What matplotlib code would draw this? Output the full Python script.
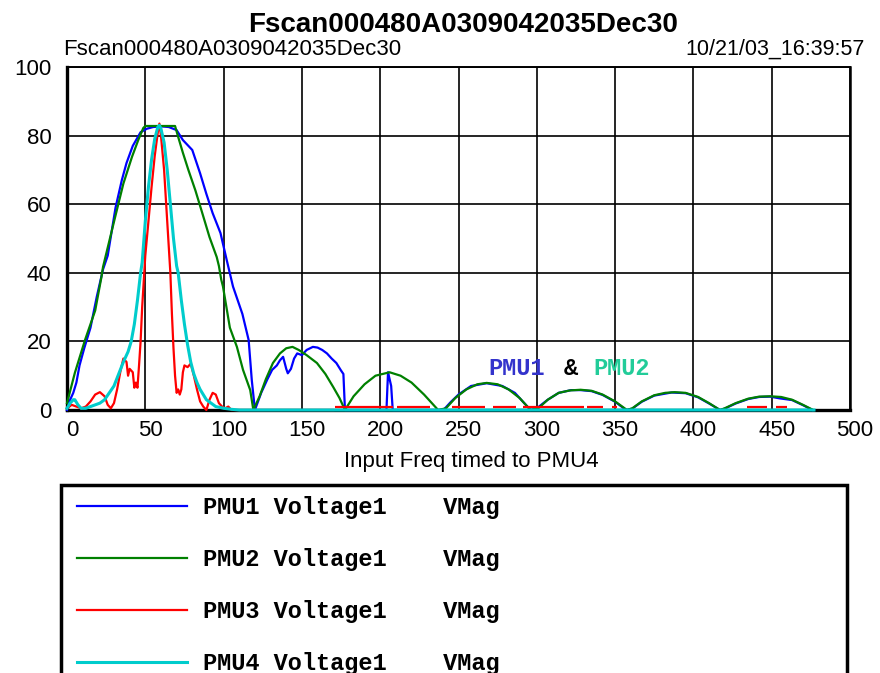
import numpy as np
import matplotlib.pyplot as plt
from matplotlib.patches import Rectangle
from matplotlib.transforms import ScaledTranslation

plt.rcParams['font.family'] = 'Liberation Sans'

# --- PMU1 voltage magnitude vs input frequency ---
pmu1_freq = [0, 2, 4, 6, 8, 11, 15, 19, 23, 26, 31, 35, 38, 42, 47, 51, 55, 60, 65,
             70, 74, 80, 85, 89, 93, 98, 102, 106, 112, 116, 118, 120,
             124, 128, 131, 134, 136, 138, 140, 141, 143, 145, 147, 150, 153, 157,
             160, 163, 166, 169, 172, 175, 176.5, 177.5,
             185, 204, 205, 206, 207, 208, 238,
             241, 245, 250, 258, 268, 278, 286, 293, 296,
             300, 307, 314, 322, 328, 335, 342, 350, 357,
             361, 367, 375, 386, 395, 403, 410, 417,
             420, 427, 435, 442, 449, 455, 463, 470, 476]
pmu1_vmag = [0, 3, 5, 8, 13, 18, 24, 33, 41, 45, 59, 67, 72, 77, 81, 82, 82.5, 82.7, 82.5,
             81.6, 78.7, 75.8, 69, 63, 57.4, 51.6, 43.7, 36, 28, 20.4, 8.7, 0,
             5, 9, 11.7, 13, 14.5, 15.5, 12, 10.7, 12, 15, 16.5, 16, 17.5, 18.4,
             18.2, 17.5, 16.5, 15, 13.7, 11.5, 10.5, 0,
             0, 0, 11, 9, 7, 0, 0,
             0.3, 2.3, 4.5, 7, 7.8, 7, 5, 1.5, 0,
             0.5, 3, 5, 5.8, 5.8, 5.5, 4.4, 2.4, 0,
             0.4, 2.4, 4.2, 5.1, 4.9, 3.7, 1.9, 0,
             0.4, 1.9, 3.2, 3.8, 3.9, 3.4, 2.9, 1.4, 0]

# --- PMU2 voltage magnitude ---
pmu2_freq = [0, 5, 11.5, 18, 22, 23, 30.6, 36, 41.5, 45.5, 48.7, 50, 69, 71, 74, 77.5,
             82, 86, 91, 95.6, 97, 98.5, 99.6, 104, 108.5, 112.4, 117, 119,
             123, 127, 131.5, 136, 140, 144, 148, 153, 159.6, 165, 170, 174, 177.5,
             183, 190, 197, 206, 213, 220, 228, 237,
             242, 248, 255, 262, 268, 275, 282, 289, 296,
             301, 307, 314, 321, 328, 335, 342, 350, 357.6,
             361, 367, 375, 382, 388, 395, 403, 410, 417,
             420, 427, 435, 442, 449, 456, 463, 470, 476.5]
pmu2_vmag = [2, 10.8, 20.4, 29, 38.8, 41.7, 56, 66, 73.8, 78.7, 82.2, 82.8, 82.8, 79.6, 75, 70,
             64, 58, 50.4, 44.6, 42, 38, 36, 24, 18.4, 11.7, 5.8, 0,
             4, 9, 13.7, 16.5, 18, 18.4, 17.5, 16, 13.7, 10.5, 6.7, 3.5, 0,
             4, 7.5, 10, 11, 10, 8, 4.5, 0,
             0.5, 3.5, 6, 7.5, 7.9, 7.5, 6, 3.5, 0,
             0.5, 3, 5, 5.7, 5.9, 5.6, 4.5, 2.5, 0,
             0.5, 2.5, 4.3, 5, 5.2, 5, 3.8, 2, 0,
             0.5, 2, 3.3, 3.9, 4, 3.8, 3, 1.5, 0]

# --- PMU3 voltage magnitude ---
pmu3_freq = [0, 3, 6, 9, 12, 15, 18, 21, 24, 26, 28, 30, 32, 34, 36, 38, 39, 40, 42,
             43, 44, 45, 46, 47, 48, 50, 52, 54, 56, 58, 59, 60, 62, 64, 66, 67, 68,
             69, 70, 71, 72, 73, 74, 75, 77, 79, 81, 83, 85, 87, 89, 91, 93, 95, 97,
             99, 101, 103, 105, 170]
pmu3_vmag = [0.5, 1.5, 1, 0.5, 1, 2.5, 4.5, 5.2, 4, 1.5, 0.5, 2, 6, 11, 15, 14, 10, 12, 11,
             6.5, 8, 6.5, 13, 20, 30, 45, 55, 65, 74, 81, 83.5, 80, 70, 55, 40, 28, 18,
             10, 5, 6, 4.5, 6, 11, 13, 12.5, 13.5, 10, 6, 2.5, 1, 0, 3, 5, 4.5, 2,
             1, 0.5, 1, 0, 0]
# low-level PMU3 readings above 170 Hz (start, end of each run)
pmu3_tail_start = [171, 211, 246, 272, 291, 332, 348, 434, 453]
pmu3_tail_end = [208, 232, 267, 287, 330, 342, 351, 447, 460]
pmu3_tail_level = 0.8

# --- PMU4 voltage magnitude ---
pmu4_freq = [0, 2, 4, 5, 7, 9, 12, 15, 18, 21, 24, 27, 30, 33, 36, 39, 41, 43, 45,
             47, 48, 50, 52, 54, 56, 58, 59, 60, 62, 64, 66, 68, 70, 71, 73, 75, 77,
             79, 81, 83, 85, 87, 89, 92, 95, 100, 105, 110, 477]
pmu4_vmag = [0.5, 2, 3, 3, 1.5, 0.5, 0.5, 1, 1.5, 2, 3, 5, 7, 10.5, 14, 17, 20, 25, 32,
             40, 43, 55, 65, 73, 79, 82.5, 83, 82, 78, 70, 60, 50, 42, 40, 32, 25, 19,
             14, 10.5, 8, 6, 4.5, 3, 2, 1, 0.5, 0.2, 0, 0]

labels = ['PMU1 Voltage1    VMag', 'PMU2 Voltage1    VMag',
          'PMU3 Voltage1    VMag', 'PMU4 Voltage1    VMag']
colors = ['#0000ff', '#008000', '#ff0000', '#00cccc']

title = 'Fscan000480A0309042035Dec30'
stamp = '10/21/03_16:39:57'

fig = plt.figure(figsize=(8.8, 6.73), dpi=100)
ax = fig.add_axes([67 / 880, 263 / 673, 783 / 880, 343 / 673])

lw = 1.6
h1, = ax.plot(pmu1_freq, pmu1_vmag, color=colors[0], lw=lw, zorder=3, clip_on=False)
h2, = ax.plot(pmu2_freq, pmu2_vmag, color=colors[1], lw=lw, zorder=3.1, clip_on=False)
h3, = ax.plot(pmu3_freq, pmu3_vmag, color=colors[2], lw=lw, zorder=3.2, clip_on=False)
ax.hlines([pmu3_tail_level] * len(pmu3_tail_start), pmu3_tail_start, pmu3_tail_end,
          color=colors[2], lw=lw, zorder=3.2)
h4, = ax.plot(pmu4_freq, pmu4_vmag, color=colors[3], lw=2.2, zorder=3.3, clip_on=False)

ax.set_xlim(0, 500)
ax.set_ylim(0, 100)
ax.set_xticks(np.arange(0, 501, 50))
ax.set_yticks(np.arange(0, 101, 20))
ax.grid(True, color='black', lw=1.2)
ax.tick_params(length=0, labelsize=16)
ax.tick_params(axis='y', pad=11)
ax.tick_params(axis='x', pad=7)
shift = ScaledTranslation(5 / 100, 0, fig.dpi_scale_trans)
for lab in ax.get_xticklabels():
    lab.set_transform(lab.get_transform() + shift)

for side, w in [('left', 2.4), ('bottom', 2.4), ('top', 1.4), ('right', 1.8)]:
    ax.spines[side].set_linewidth(w)
    ax.spines[side].set_color('black')

fig.text(471 / 880, 1 - 462 / 673, 'Input Freq timed to PMU4', ha='center', va='center', fontsize=16)

# coloured caption inside the plot
mono = dict(family='Liberation Mono', weight='bold', fontsize=17, va='center')
ax.text(269, 12.2, 'PMU1', color='#3333cc', **mono)
ax.text(317, 12.2, '&', color='black', **mono)
ax.text(336, 12.2, 'PMU2', color='#22cc99', **mono)

fig.text(463 / 880, 1 - 32 / 673, title, ha='center', va='baseline', fontsize=20, weight='bold')
fig.text(63 / 880, 1 - 55 / 673, title, ha='left', va='baseline', fontsize=16)
fig.text(865 / 880, 1 - 55 / 673, stamp, ha='right', va='baseline', fontsize=15.5)

# legend box running off the bottom edge
fig.patches.append(Rectangle((61 / 880, -0.05), (847 - 61) / 880, 0.05 + 1 - 485 / 673,
                             transform=fig.transFigure, fill=False, edgecolor='black',
                             lw=2.5, figure=fig))
fig.legend([h1, h2, h3, h4], labels, loc='upper left',
           bbox_to_anchor=(77 / 880, 1 - 496 / 673), frameon=False,
           borderpad=0, borderaxespad=0, handlelength=4.65, handletextpad=0.7,
           labelspacing=1.23, prop=dict(family='Liberation Mono', weight='bold', size=17))

fig.savefig('out.png', dpi=100)
